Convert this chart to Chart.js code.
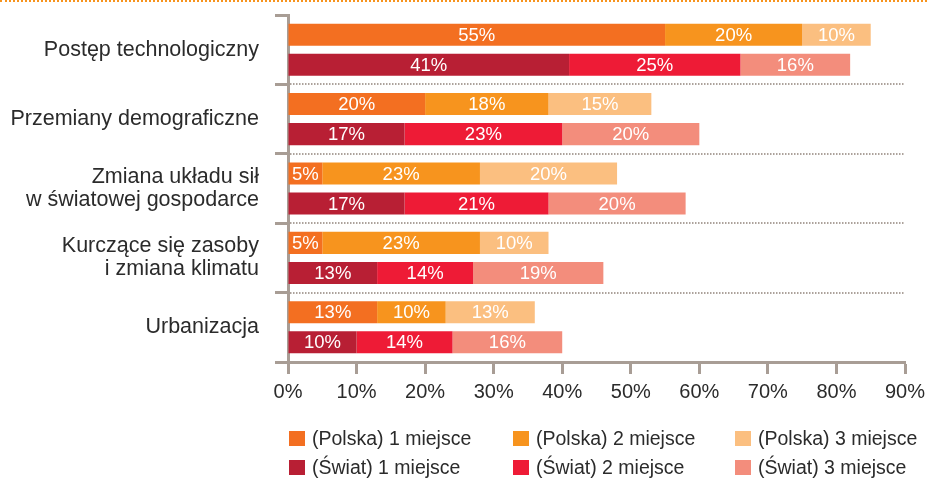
<!DOCTYPE html>
<html lang="pl">
<head>
<meta charset="utf-8">
<title>Megatrendy</title>
<script src="https://cdn.jsdelivr.net/npm/chart.js@4/dist/chart.umd.min.js"></script>
<style>
    body { margin: 0; background: #fff; }
    .wrap { position: relative; width: 927px; height: 479px; overflow: hidden; }
    .top-rule { position: absolute; left: 0; right: 0; top: 0; border-top: 2px dotted #f7941e; }
    #megatrends-chart { position: absolute; left: 0; top: 0; }
    .legend {
        position: absolute; left: 289px; top: 429px;
        display: grid; grid-template-columns: 224px 222px auto; row-gap: 10px;
        font-family: 'Liberation Sans', Arial, sans-serif; font-size: 19.5px; color: #2b2b2b;
    }
    .legend-item { display: flex; align-items: center; height: 19px; white-space: nowrap; }
    .legend-box { width: 16px; height: 15px; margin-right: 7px; flex: none; }
</style>
</head>
<body>
<div class="wrap">
    <div class="top-rule"></div>
    <canvas id="megatrends-chart" width="927" height="479"></canvas>
    <div class="legend" id="megatrends-legend"></div>
</div>
<script>
// Categories (y axis)
const categories = [
    'Postęp technologiczny',
    'Przemiany demograficzne',
    ['Zmiana układu sił', 'w światowej gospodarce'],
    ['Kurczące się zasoby', 'i zmiana klimatu'],
    'Urbanizacja'
];

// Poland - share of answers per place (%)
const polska1 = [55, 20, 5, 5, 13];
const polska2 = [20, 18, 23, 23, 10];
const polska3 = [10, 15, 20, 10, 13];

// World - share of answers per place (%)
const swiat1 = [41, 17, 17, 13, 10];
const swiat2 = [25, 23, 21, 14, 14];
const swiat3 = [16, 20, 20, 19, 16];

// X axis ticks
const xTicks = [0, 10, 20, 30, 40, 50, 60, 70, 80, 90];

const Megatrends = {
    chart: null,
    axisColor: '#a89d95',
    textColor: '#2b2b2b',
    font: "'Liberation Sans', Arial, sans-serif",

    /**
     * White value labels inside each bar segment
     */
    valueLabels: {
        id: 'valueLabels',
        afterDatasetsDraw(chart) {
            const ctx = chart.ctx;
            ctx.save();
            ctx.font = "18.5px 'Liberation Sans', Arial, sans-serif";
            ctx.fillStyle = '#ffffff';
            ctx.textAlign = 'center';
            ctx.textBaseline = 'middle';
            chart.data.datasets.forEach((ds, i) => {
                const meta = chart.getDatasetMeta(i);
                meta.data.forEach((bar, j) => {
                    const p = bar.getProps(['x', 'y', 'base'], true);
                    ctx.fillText(ds.data[j] + '%', (p.x + p.base) / 2, p.y + 1);
                });
            });
            ctx.restore();
        }
    },

    /**
     * Dotted separators between categories
     */
    separators: {
        id: 'separators',
        beforeDatasetsDraw(chart) {
            const ctx = chart.ctx;
            const y = chart.scales.y;
            const area = chart.chartArea;
            ctx.save();
            ctx.strokeStyle = '#aca29b';
            ctx.lineWidth = 2;
            ctx.setLineDash([1.5, 1.5]);
            for (let i = 1; i < chart.data.labels.length; i++) {
                const py = Math.round((y.getPixelForValue(i - 1) + y.getPixelForValue(i)) / 2);
                ctx.beginPath();
                ctx.moveTo(area.left + 2, py);
                ctx.lineTo(area.right, py);
                ctx.stroke();
            }
            ctx.restore();
        }
    },

    init() {
        this.render();
        this.buildLegend();
    },

    render() {
        const ctx = document.getElementById('megatrends-chart');
        const grey = this.axisColor;

        this.chart = new Chart(ctx, {
            type: 'bar',
            data: {
                labels: categories,
                datasets: [
                    { label: '(Polska) 1 miejsce', data: polska1, stack: 'Polska', backgroundColor: '#f36f21' },
                    { label: '(Polska) 2 miejsce', data: polska2, stack: 'Polska', backgroundColor: '#f7941e' },
                    { label: '(Polska) 3 miejsce', data: polska3, stack: 'Polska', backgroundColor: '#fbbf80' },
                    { label: '(Świat) 1 miejsce', data: swiat1, stack: 'Swiat', backgroundColor: '#b81f34' },
                    { label: '(Świat) 2 miejsce', data: swiat2, stack: 'Swiat', backgroundColor: '#ee1b36' },
                    { label: '(Świat) 3 miejsce', data: swiat3, stack: 'Swiat', backgroundColor: '#f38d7c' }
                ]
            },
            options: {
                indexAxis: 'y',
                responsive: false,
                animation: false,
                categoryPercentage: 0.865,
                barPercentage: 0.735,
                layout: {
                    padding: { top: 15, right: 22, left: 0, bottom: 0 }
                },
                plugins: {
                    legend: { display: false },
                    tooltip: { enabled: false }
                },
                scales: {
                    x: {
                        stacked: true,
                        min: 0,
                        max: 90,
                        afterBuildTicks: (scale) => {
                            scale.ticks = xTicks.map(v => ({ value: v }));
                        },
                        afterFit: (scale) => {
                            scale.height = 117;
                            scale.paddingLeft = 0;
                            scale.paddingRight = 0;
                        },
                        ticks: {
                            callback: v => v + '%',
                            color: this.textColor,
                            padding: 6,
                            font: { family: this.font, size: 20 }
                        },
                        grid: {
                            drawOnChartArea: false,
                            tickLength: 12,
                            tickWidth: 3,
                            tickColor: grey
                        },
                        border: { display: true, color: grey, width: 3 }
                    },
                    y: {
                        stacked: true,
                        afterFit: (scale) => {
                            scale.width = 288;
                            scale.paddingTop = 0;
                            scale.paddingBottom = 0;
                        },
                        ticks: {
                            color: this.textColor,
                            padding: 16,
                            font: { family: this.font, size: 21.5, lineHeight: 1.07 }
                        },
                        grid: {
                            offset: true,
                            drawOnChartArea: false,
                            tickLength: 13,
                            tickWidth: 3,
                            tickColor: grey
                        },
                        border: { display: true, color: grey, width: 3 }
                    }
                }
            },
            plugins: [this.separators, this.valueLabels]
        });
    },

    /**
     * HTML legend, 3 columns x 2 rows, built from the datasets
     */
    buildLegend() {
        const box = document.getElementById('megatrends-legend');
        box.innerHTML = '';
        this.chart.data.datasets.forEach(ds => {
            const item = document.createElement('div');
            item.className = 'legend-item';
            const sw = document.createElement('span');
            sw.className = 'legend-box';
            sw.style.background = ds.backgroundColor;
            const txt = document.createElement('span');
            txt.textContent = ds.label;
            item.appendChild(sw);
            item.appendChild(txt);
            box.appendChild(item);
        });
    }
};

Megatrends.init();
</script>
</body>
</html>
